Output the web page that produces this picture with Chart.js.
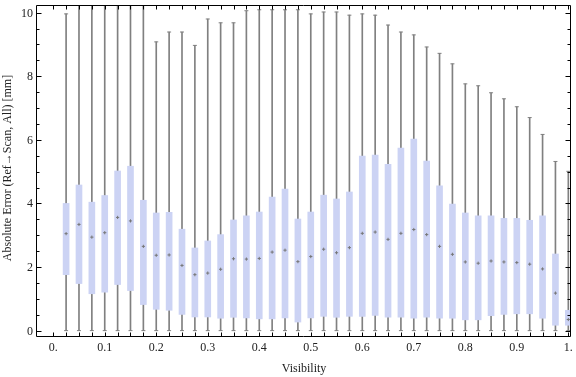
<!DOCTYPE html>
<html><head><meta charset="utf-8">
<script src="https://cdn.jsdelivr.net/npm/chart.js@4.4.0/dist/chart.umd.min.js"></script>
<style>html,body{margin:0;padding:0;background:#fff;overflow:hidden;}</style>
</head><body>
<canvas id="c" width="576" height="377"></canvas>
<script>
const visibility = [0.025,0.05,0.075,0.1,0.125,0.15,0.175,0.2,0.225,0.25,0.275,0.3,0.325,0.35,0.375,0.4,0.425,0.45,0.475,0.5,0.525,0.55,0.575,0.6,0.625,0.65,0.675,0.7,0.725,0.75,0.775,0.8,0.825,0.85,0.875,0.9,0.925,0.95,0.975,1.0];
const whiskerLow = [0,0,0,0,0,0,0,0,0,0,0,0,0,0,0,0,0,0,0,0,0,0,0,0,0,0,0,0,0,0,0,0,0,0,0,0,0,0,0,0];
const q1 = [1.76,1.48,1.16,1.21,1.45,1.26,0.82,0.67,0.64,0.51,0.43,0.43,0.39,0.42,0.40,0.37,0.37,0.40,0.27,0.40,0.45,0.42,0.45,0.45,0.48,0.42,0.42,0.39,0.42,0.39,0.39,0.34,0.34,0.47,0.51,0.53,0.53,0.39,0.17,0.17];
const median = [3.05,3.34,2.94,3.08,3.56,3.45,2.65,2.37,2.38,2.05,1.76,1.81,1.93,2.26,2.25,2.27,2.47,2.53,2.17,2.33,2.56,2.45,2.61,3.06,3.10,2.87,3.06,3.18,3.02,2.65,2.40,2.16,2.12,2.19,2.16,2.14,2.09,1.94,1.18,0.35];
const q3 = [4.00,4.58,4.04,4.25,5.02,5.17,4.10,3.70,3.72,3.19,2.60,2.82,3.02,3.48,3.61,3.73,4.20,4.45,3.51,3.73,4.26,4.14,4.36,5.49,5.52,5.23,5.74,6.02,5.33,4.55,3.98,3.70,3.61,3.61,3.53,3.53,3.47,3.61,2.41,0.64];
const whiskerHigh = [9.96,12,12,12,12,12,12,9.08,9.39,9.39,8.97,9.80,9.68,9.68,10.06,10.09,10.09,10.09,10.09,9.96,10.02,10.02,9.92,9.96,9.92,9.61,9.39,9.30,8.92,8.72,8.39,7.76,7.70,7.48,7.29,7.04,6.70,6.17,5.32,5.01];
const xTickValues = [0,0.1,0.2,0.3,0.4,0.5,0.6,0.7,0.8,0.9,1.0];
const xTickLabels = ["0.","0.1","0.2","0.3","0.4","0.5","0.6","0.7","0.8","0.9","1."];
const xMinorTicks = [0,0.025,0.05,0.075,0.1,0.125,0.15,0.175,0.2,0.225,0.25,0.275,0.3,0.325,0.35,0.375,0.4,0.425,0.45,0.475,0.5,0.525,0.55,0.575,0.6,0.625,0.65,0.675,0.7,0.725,0.75,0.775,0.8,0.825,0.85,0.875,0.9,0.925,0.95,0.975,1.0];
const yTickValues = [0,2,4,6,8,10];
const yTickLabels = ["0","2","4","6","8","10"];
const yMinorTicks = [0.5,1,1.5,2.5,3,3.5,4.5,5,5.5,6.5,7,7.5,8.5,9,9.5];
const xTitle = "Visibility";
const yTitle = "Absolute Error (Ref\u2192Scan, All) [mm]";

const FONT = '12px "Liberation Serif", "DejaVu Serif", serif';
const frame = {
  id: 'frame',
  afterDraw(chart) {
    const ctx = chart.ctx, a = chart.chartArea;
    const xs = chart.scales.x, ys = chart.scales.y;
    const L = Math.round(a.left) - 0.5, R = Math.round(a.right) - 0.5;
    const T = Math.round(a.top) + 0.5, B = Math.round(a.bottom) - 0.5;
    ctx.save();
    ctx.strokeStyle = '#000'; ctx.lineWidth = 1;
    ctx.beginPath();
    ctx.moveTo(L, T); ctx.lineTo(R, T); ctx.lineTo(R, B); ctx.lineTo(L, B); ctx.closePath();
    xMinorTicks.forEach(v => {
      const px = Math.round(xs.getPixelForValue(v)) + 0.5;
      ctx.moveTo(px, B); ctx.lineTo(px, B - 4);
      ctx.moveTo(px, T); ctx.lineTo(px, T + 4);
    });
    yTickValues.forEach(v => {
      const py = Math.round(ys.getPixelForValue(v)) + 0.5;
      ctx.moveTo(L, py); ctx.lineTo(L + 5, py);
      ctx.moveTo(R, py); ctx.lineTo(R - 5, py);
    });
    yMinorTicks.forEach(v => {
      const py = Math.round(ys.getPixelForValue(v)) + 0.5;
      ctx.moveTo(L, py); ctx.lineTo(L + 3, py);
      ctx.moveTo(R, py); ctx.lineTo(R - 3, py);
    });
    ctx.stroke();
    ctx.fillStyle = '#222'; ctx.font = FONT;
    ctx.textAlign = 'center'; ctx.textBaseline = 'alphabetic';
    xTickValues.forEach((v, i) => {
      ctx.fillText(xTickLabels[i], xs.getPixelForValue(v), 351);
    });
    ctx.textAlign = 'right';
    yTickValues.forEach((v, i) => {
      ctx.fillText(yTickLabels[i], 33, ys.getPixelForValue(v) + 4);
    });
    ctx.textAlign = 'center';
    ctx.fillText(xTitle, (a.left + a.right) / 2, 372);
    ctx.translate(10.5, 168);
    ctx.rotate(-Math.PI / 2);
    ctx.fillText(yTitle, 0, 0);
    ctx.restore();
  }
};

const gray = '#808080';
new Chart(document.getElementById('c'), {
  type: 'bar',
  data: {
    datasets: [
      { type: 'bar', order: 3, grouped: false, barThickness: 1, backgroundColor: gray,
        data: visibility.map((x, i) => ({ x: x, y: [whiskerLow[i], whiskerHigh[i]] })) },
      { type: 'bar', order: 2, grouped: false, barThickness: 6, backgroundColor: 'rgb(204,211,244)',
        data: visibility.map((x, i) => ({ x: x, y: [q1[i], q3[i]] })) },
      { type: 'scatter', order: 1, pointStyle: 'line', pointRadius: 2, borderColor: gray, borderWidth: 1,
        data: visibility.map((x, i) => ({ x: x, y: whiskerLow[i] })).concat(visibility.map((x, i) => ({ x: x, y: whiskerHigh[i] }))) },
      { type: 'scatter', order: 0, pointStyle: 'cross', pointRadius: 1.6, borderColor: '#777', borderWidth: 1,
        data: visibility.map((x, i) => ({ x: x, y: median[i] })) }
    ]
  },
  options: {
    responsive: false, animation: false, events: [],
    layout: { padding: { left: 37, right: 3, top: 4, bottom: 40 } },
    plugins: { legend: { display: false }, tooltip: { enabled: false } },
    scales: {
      x: { type: 'linear', min: -0.0315, max: 1.0052, display: false, offset: false },
      y: { type: 'linear', min: -0.2, max: 10.24, display: false }
    }
  },
  plugins: [frame]
});
</script>
</body></html>
